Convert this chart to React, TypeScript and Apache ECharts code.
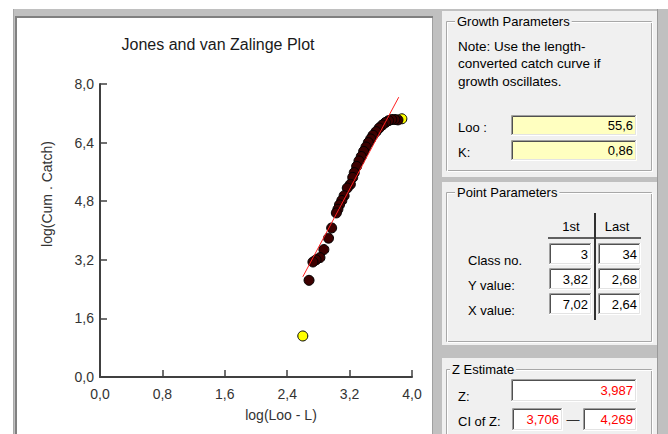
import React, { useEffect, useRef } from "react";
import * as echarts from "echarts";

// ---- chart data ----
const includedX = [3.82, 3.78, 3.74, 3.70, 3.66, 3.62, 3.58, 3.54, 3.50, 3.47, 3.44, 3.41, 3.38, 3.35, 3.32, 3.29, 3.26, 3.24, 3.21, 3.17, 3.13, 3.10, 3.07, 3.05, 3.03, 2.97, 2.93, 2.87, 2.82, 2.77, 2.73, 2.68];
const includedY = [7.02, 7.03, 7.03, 7.00, 6.95, 6.88, 6.80, 6.70, 6.60, 6.50, 6.40, 6.28, 6.16, 6.02, 5.90, 5.75, 5.58, 5.45, 5.26, 5.16, 4.95, 4.82, 4.70, 4.58, 4.48, 4.07, 3.79, 3.48, 3.26, 3.20, 3.14, 2.64];
const excludedX = [3.87, 2.60];
const excludedY = [7.05, 1.12];
const fitSlope = 3.987;
const fitIntercept = -7.63;
const fitXRange = [2.6, 3.83];

const xMin = 0, xMax = 4, xStep = 0.8;
const yMin = 0, yMax = 8, yStep = 1.6;

// ---- panel texts ----
const noteLines = ["Note: Use the length-", "converted catch curve if", "growth oscillates."];
const growthLabels = ["Loo :", "K:"];
const growthValues = ["55,6", "0,86"];
const pointRowLabels = ["Class no.", "Y value:", "X value:"];
const firstColumn = ["3", "3,82", "7,02"];
const lastColumn = ["34", "2,68", "2,64"];
const zValue = "3,987";
const ciLow = "3,706";
const ciHigh = "4,269";

const FONT = '"Liberation Sans", Arial, sans-serif';
const PANEL = "#f0f0f0";
const GRAY = "#c0c0c0";

const fmt = (v: number) => v.toFixed(1).replace(".", ",");

function rect(x: number, y: number, w: number, h: number, fill: string, stroke?: string, z = 0) {
  return {
    type: "rect",
    silent: true,
    z,
    shape: { x, y, width: w, height: h },
    style: { fill, stroke: stroke || null, lineWidth: 1 },
  };
}

function line(x1: number, y1: number, x2: number, y2: number, stroke: string, w = 1, z = 1) {
  return {
    type: "line",
    silent: true,
    z,
    shape: { x1, y1, x2, y2 },
    style: { stroke, lineWidth: w },
  };
}

function txt(x: number, y: number, t: string, opts: any = {}) {
  return {
    type: "text",
    silent: true,
    z: opts.z ?? 5,
    x,
    y,
    rotation: opts.rotation || 0,
    style: {
      text: t,
      fill: opts.color || "#000000",
      font: `${opts.size || 13}px ${FONT}`,
      textAlign: opts.align || "left",
      textVerticalAlign: "middle",
      backgroundColor: opts.bg || null,
      padding: opts.bg ? [0, 2] : 0,
    },
  };
}

function sunkenBox(x1: number, y1: number, x2: number, y2: number, fill: string) {
  return [
    rect(x1, y1, x2 - x1, y2 - y1, fill, undefined, 2),
    { type: "polyline", silent: true, z: 3, shape: { points: [[x1 + 0.5, y2], [x1 + 0.5, y1 + 0.5], [x2, y1 + 0.5]] }, style: { stroke: "#a0a0a0", fill: null, lineWidth: 1 } },
    { type: "polyline", silent: true, z: 3, shape: { points: [[x1 + 1.5, y2 - 1], [x1 + 1.5, y1 + 1.5], [x2 - 1, y1 + 1.5]] }, style: { stroke: "#505050", fill: null, lineWidth: 1 } },
    { type: "polyline", silent: true, z: 3, shape: { points: [[x1, y2 - 0.5], [x2 - 0.5, y2 - 0.5], [x2 - 0.5, y1]] }, style: { stroke: "#ffffff", fill: null, lineWidth: 1 } },
    { type: "polyline", silent: true, z: 3, shape: { points: [[x1 + 1, y2 - 1.5], [x2 - 1.5, y2 - 1.5], [x2 - 1.5, y1 + 1]] }, style: { stroke: "#e3e3e3", fill: null, lineWidth: 1 } },
  ];
}

function groupFrame(x: number, y: number, w: number, h: number) {
  return [
    rect(x + 0.5, y + 0.5, w, h, "rgba(0,0,0,0)", "#a8a8a8", 1),
    rect(x + 1.5, y + 1.5, w, h, "rgba(0,0,0,0)", "#ffffff", 1),
  ];
}

function buildGraphics() {
  const g: any[] = [];
  // window chrome around plot
  g.push(rect(13, 9, 655, 9, GRAY));
  g.push(rect(13, 9, 4, 425, GRAY));
  g.push(rect(433, 9, 235, 425, GRAY));
  g.push(line(13.5, 9, 13.5, 434, "#a8a8a8", 1));
  g.push(line(16, 17, 16, 434, "#808080", 2));
  g.push(line(15, 17, 433, 17, "#808080", 2));
  g.push(line(432.5, 18, 432.5, 434, "#a0a0a0", 1));
  g.push(line(657.5, 9, 657.5, 434, "#9a9a9a", 1));

  // ---- Growth Parameters ----
  g.push(rect(442, 11, 215, 166, PANEL));
  g.push(...groupFrame(446, 21, 205, 149));
  g.push(txt(455, 21, "Growth Parameters", { bg: PANEL }));
  noteLines.forEach((l, i) => g.push(txt(458, 46 + i * 17.5, l, { size: 13.5 })));
  growthLabels.forEach((l, i) => {
    const top = 115 + i * 25;
    g.push(txt(458, top + 12, l));
    g.push(...sunkenBox(511, top, 637, top + 21, "#ffffc0"));
    g.push(txt(633, top + 10.5, growthValues[i], { align: "right" }));
  });

  // ---- Point Parameters ----
  g.push(rect(442, 182, 215, 163, PANEL));
  g.push(...groupFrame(446, 192, 205, 149));
  g.push(txt(455, 192, "Point Parameters", { bg: PANEL }));
  g.push(txt(571, 226, "1st", { align: "center" }));
  g.push(txt(617, 226, "Last", { align: "center" }));
  g.push(line(548, 238, 641, 238, "#303030", 1.5, 4));
  g.push(line(595, 213, 595, 320, "#303030", 2, 4));
  pointRowLabels.forEach((l, i) => {
    const top = 243 + i * 25;
    g.push(txt(468, top + 17, l));
    g.push(...sunkenBox(549, top, 592, top + 22, "#ffffff"));
    g.push(...sunkenBox(598, top, 641, top + 22, "#ffffff"));
    g.push(txt(588, top + 11, firstColumn[i], { align: "right" }));
    g.push(txt(637, top + 11, lastColumn[i], { align: "right" }));
  });

  // ---- Z Estimate ----
  g.push(rect(442, 358, 215, 80, PANEL));
  g.push(...groupFrame(446, 369, 205, 80));
  g.push(txt(450, 369, "Z Estimate", { bg: PANEL }));
  g.push(txt(458, 396, "Z:"));
  g.push(...sunkenBox(511, 379, 637, 402, "#ffffff"));
  g.push(txt(633, 390.5, zValue, { align: "right", color: "#ff0000" }));
  g.push(txt(458, 421, "CI of Z:"));
  g.push(...sunkenBox(512, 408, 563, 431, "#ffffff"));
  g.push(txt(559, 419.5, ciLow, { align: "right", color: "#ff0000" }));
  g.push(txt(573, 419, "\u2014", { align: "center", color: "#303030" }));
  g.push(...sunkenBox(583, 408, 637, 431, "#ffffff"));
  g.push(txt(633, 419.5, ciHigh, { align: "right", color: "#ff0000" }));

  // ---- plot texts ----
  g.push(txt(218, 44, "Jones and van Zalinge Plot", { align: "center", size: 16, color: "#1a1a1a" }));
  g.push(txt(281, 415, "log(Loo - L)", { align: "center", size: 14, color: "#333333" }));
  g.push(txt(47, 194, "log(Cum . Catch)", { align: "center", size: 14, color: "#333333", rotation: Math.PI / 2 }));
  return g;
}

export default function App() {
  const ref = useRef<HTMLDivElement>(null);
  useEffect(() => {
    if (!ref.current) return;
    const chart = echarts.init(ref.current, undefined, { renderer: "svg" });
    const included = includedX.map((x, i) => [x, includedY[i]]);
    const excluded = excludedX.map((x, i) => [x, excludedY[i]]);
    const fit = fitXRange.map((x) => [x, fitSlope * x + fitIntercept]);
    const axisCommon = {
      type: "value",
      splitLine: { show: false },
      axisLine: { show: true, onZero: false, lineStyle: { color: "#404040", width: 2 } },
      axisTick: { show: true, inside: true, length: 7, lineStyle: { color: "#404040", width: 1.5 } },
    };
    chart.setOption({
      animation: false,
      backgroundColor: "#ffffff",
      grid: { left: 100, top: 84, width: 312, height: 293, containLabel: false },
      xAxis: {
        ...axisCommon,
        min: xMin,
        max: xMax,
        interval: xStep,
        axisLabel: { formatter: fmt, color: "#333333", fontSize: 14, fontFamily: FONT, margin: 10, showMinLabel: true, showMaxLabel: true },
      },
      yAxis: {
        ...axisCommon,
        min: yMin,
        max: yMax,
        interval: yStep,
        axisLabel: { formatter: fmt, color: "#333333", fontSize: 14, fontFamily: FONT, margin: 6, showMinLabel: true, showMaxLabel: true },
      },
      series: [
        {
          type: "scatter",
          data: excluded,
          symbolSize: 10,
          itemStyle: { color: "#ffff00", borderColor: "#000000", borderWidth: 1, opacity: 1 },
          z: 2,
        },
        {
          type: "scatter",
          data: included,
          symbolSize: 10,
          itemStyle: { color: "#3c0000", borderColor: "#000000", borderWidth: 1, opacity: 1 },
          z: 3,
        },
        {
          type: "line",
          data: fit,
          symbol: "none",
          lineStyle: { color: "#ff2020", width: 1 },
          z: 4,
        },
      ],
      graphic: buildGraphics(),
    });
    return () => chart.dispose();
  }, []);
  return (
    <div
      ref={ref}
      style={{ position: "fixed", left: 0, top: 0, width: 668, height: 434 }}
    />
  );
}
